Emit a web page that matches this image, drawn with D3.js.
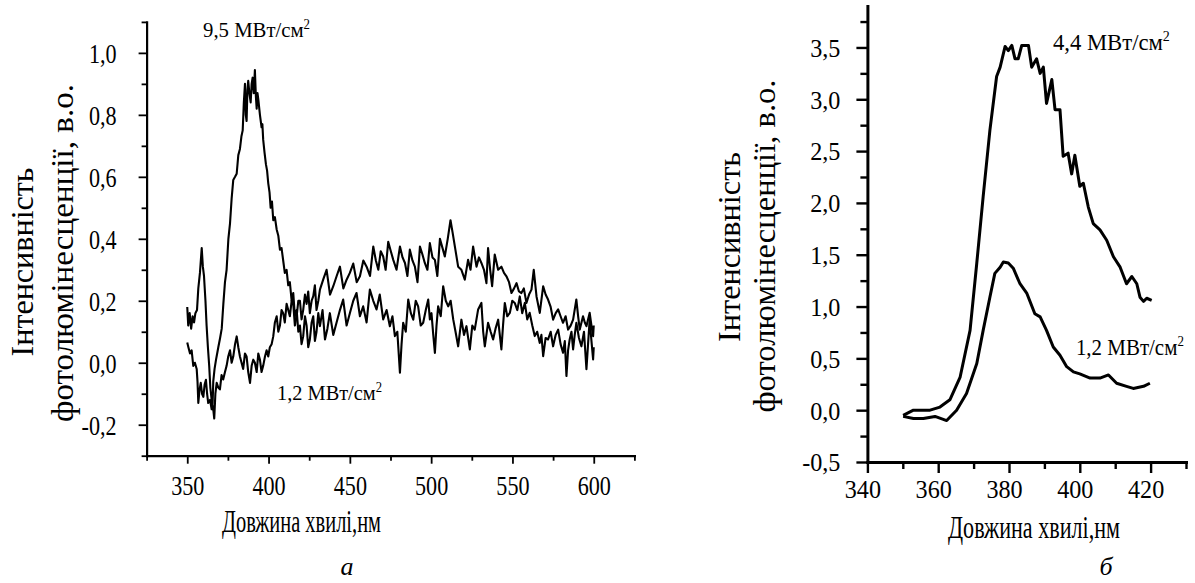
<!DOCTYPE html>
<html lang="uk">
<head>
<meta charset="UTF-8">
<title>Photoluminescence spectra</title>
<script src="https://d3js.org/d3.v7.min.js"></script>
<style>
  body { margin: 0; background: #fff; }
  svg { display: block; }
  svg text { font-family: "Liberation Serif", "DejaVu Serif", "Noto Serif", "Times New Roman", serif !important; fill: #000; }
</style>
</head>
<body>
<script>
// ---- panel (a): 9,5 MW/cm2 and 1,2 MW/cm2, 350-600 nm ----
var lambda95 = [350, 350.6, 351.5, 352.4, 353.3, 354.2, 355, 356, 356.8, 357.8, 358.9, 359.6, 360.3, 361.2, 361.9, 362.7, 363.5, 364.2, 365, 365.5, 366, 366.8, 367.7, 368.4, 369.1, 370.2, 371.2, 372.2, 373.2, 374.2, 375.3, 376.3, 377.3, 378.3, 379.4, 380.4, 381.4, 382.4, 383.3, 384.1, 384.8, 385.5, 386, 386.5, 387, 387.5, 388.2, 389, 389.6, 390.2, 390.9, 391.6, 392.2, 392.7, 393.2, 393.7, 394.7, 395.7, 396.2, 396.7, 397.5, 398.4, 399.1, 399.8, 400.6, 401.3, 402.1, 402.9, 403.9, 405, 406, 407, 408, 409, 410, 411.1, 412.1, 413.1, 414.2, 415.2, 416.2, 417.3, 418.3, 419.3, 420.3, 421.3, 422.4, 423.4, 424.4, 425.4, 426.5, 427.5, 428.5, 429.5, 430.6,
  431.6, 433.2, 434.7, 436.2, 437.7, 439.8, 441.8, 443.9, 445.9, 448, 450, 452.1, 454.1, 456.2, 458.2, 460.3, 462.3, 464.4, 466.4, 468.4, 470.5, 472.6, 474.6, 476.2, 477.7, 479.2, 480.8, 481.8, 482.8, 484.4, 485.9, 487.5, 489, 490.5, 492, 493.6, 495.1, 496.7, 498.2, 499.2, 500.2, 501.3, 502.3, 503.3, 504.3, 505.9, 507.4, 509, 510.5, 512, 513.6, 515, 516.6,
  518.6, 520.2, 521.7, 523.8, 525.3, 526.8, 528.9, 530.9, 532, 533, 535, 536.6, 538.1, 539.6, 541.2, 543.2, 544.2, 545.3, 546.8, 548.4, 549.9, 551.4, 553, 554.5, 556, 557.6, 559.1, 560.6, 562.2, 563.7, 565.2, 566.8, 567.8, 568.9, 570.4, 571.9, 573.5, 575, 576.6, 578.1, 579.6, 581.1, 582.2, 583.2, 584.2, 585.2, 586.3, 587.3, 588.3, 589.3, 590.9, 592.4, 594, 595.5, 596.5, 597.5, 598.6, 599.6, 600];
var int95 = [0.18, 0.12, 0.16, 0.11, 0.15, 0.13, 0.16, 0.17, 0.24, 0.29, 0.37, 0.31, 0.28, 0.2, 0.12, 0.05, -0.01, -0.08, -0.12, -0.15, -0.06, -0.02, 0.01, 0.03, 0.05, 0.08, 0.11, 0.19, 0.26, 0.3, 0.4, 0.45, 0.53, 0.59, 0.6, 0.61, 0.67, 0.69, 0.73, 0.75, 0.84, 0.9, 0.8, 0.78, 0.88, 0.91, 0.87, 0.84, 0.9, 0.92, 0.87, 0.945, 0.86, 0.82, 0.87, 0.85, 0.8, 0.76, 0.77, 0.72, 0.68, 0.64, 0.62, 0.58, 0.55, 0.5, 0.52, 0.46, 0.47, 0.43, 0.41, 0.365, 0.37, 0.33, 0.29, 0.3, 0.25, 0.26, 0.2, 0.225, 0.15, 0.17, 0.1, 0.12, 0.06, 0.085, 0.15, 0.12, 0.05, 0.075, 0.13, 0.15, 0.07, 0.1, 0.16,
  0.118, 0.17, 0.075, 0.11, 0.16, 0.09, 0.129, 0.17, 0.204, 0.12, 0.16, 0.2, 0.225, 0.15, 0.182, 0.13, 0.236, 0.2, 0.172, 0.22, 0.14, 0.17, 0.118, 0.15, 0.086, 0.1, -0.032, 0.06, 0.129, 0.1, 0.204, 0.16, 0.139, 0.2, 0.182, 0.12, 0.129, 0.17, 0.204, 0.14, 0.16, 0.09, 0.032, 0.12, 0.182, 0.15, 0.247, 0.2, 0.182, 0.2, 0.139, 0.1, 0.053,
  0.139, 0.09, 0.118, 0.043, 0.12, 0.107, 0.172, 0.193, 0.1, 0.053, 0.129, 0.1, 0.075, 0.11, 0.139, 0.043, 0.12, 0.193, 0.15, 0.161, 0.2, 0.193, 0.17, 0.214, 0.16, 0.193, 0.14, 0.161, 0.12, 0.086, 0.1, 0.064, 0.09, 0.021, 0.08, 0.075, 0.1, 0.053, 0.09, 0.107, 0.06, 0.032, 0.07, -0.043, 0.04, 0.075, 0.1, 0.043, 0.09, 0.129, 0.08, 0.053, 0.1, -0.021, 0.06, 0.139, 0.07, 0.011, 0.05];

var lambda12a = [350, 350.7, 351.7, 352.7, 353.7, 354.7, 355.8, 356.3, 356.8, 357.5, 358.3, 359.1, 359.9, 360.7, 361.5, 362.2, 362.9, 364, 365, 365.8, 366.6, 367.3, 368.1, 369.1, 370.1, 371.1, 372.1, 373.2, 374.2, 375.2, 376.3, 377.3, 378.3, 379.4, 380.4, 381.4, 382.4, 383.4, 384.4, 385.5, 386.5, 387.5, 388.6, 389.6, 390.6, 391.6, 392.7, 393.7, 394.7, 395.7, 396.7, 397.8, 398.8, 399.8, 400.8, 401.9, 402.9, 403.9, 405, 406, 407, 408, 409, 410, 411.1, 412.1, 413.1, 414.2, 415.2, 416.2, 417.3, 418.3, 419.3, 420.3, 421.3, 422.4, 423.4, 424.4, 425.4, 426.5, 427.5, 428.5, 429.5, 430.6,
  431.6, 433.7, 435.7, 437.8, 439.8, 441.9, 443.9, 446, 448, 450, 452.1, 454.2, 456.2, 458.3, 460.3, 462.4, 464.4, 466, 467.5, 469, 470.5, 472, 473.6, 475.2, 476.7, 478.7, 480.8, 482.4, 483.9, 485.4, 486.9, 488.5, 490, 491.6, 493.1, 494.6, 496.1, 497.7, 499.2, 500.8, 502.3, 503.8, 505.4, 507, 508.4, 510.2, 511.9, 513.2, 514.6, 516.6, 518.6,
  520.7, 522.7, 524.2, 525.8, 527.9, 529.4, 530.9, 532.5, 534, 535, 536.3, 537.5, 539.1, 541.2, 543.2, 544.8, 546.3, 547.9, 549.4, 551, 552.5, 554, 555.5, 557, 558.6, 560.2, 561.7, 563.1, 564.8, 566.8, 568.9, 570.4, 571.9, 573.5, 575, 576.6, 578.1, 579.6, 581.1, 582.7, 584.2, 585.8, 587.3, 589.3, 590.4, 591.4, 593.4, 594.5, 595.5, 597.5, 598.6, 599.6, 600];
var int12a = [0.065, 0.05, 0.03, 0.04, -0.01, 0.0, -0.02, -0.06, -0.13, -0.09, -0.065, -0.1, -0.11, -0.07, -0.055, -0.1, -0.13, -0.12, -0.15, -0.14, -0.18, -0.1, -0.065, -0.08, -0.086, -0.04, -0.054, -0.03, -0.01, 0.02, 0.04, 0.0, 0.02, 0.06, 0.085, 0.05, 0.02, 0.0, -0.02, 0.03, 0.02, -0.03, -0.065, -0.01, 0.01, 0.0, -0.03, 0.03, 0.01, -0.03, -0.01, 0.02, 0.04, 0.02, 0.05, 0.06, 0.085, 0.13, 0.15, 0.1, 0.12, 0.17, 0.16, 0.13, 0.19, 0.17, 0.15, 0.2, 0.19, 0.12, 0.15, 0.2, 0.2, 0.14, 0.17, 0.22, 0.19, 0.23, 0.16, 0.2, 0.215, 0.25, 0.17, 0.2,
  0.236, 0.27, 0.3, 0.22, 0.247, 0.28, 0.31, 0.24, 0.268, 0.29, 0.32, 0.26, 0.279, 0.33, 0.31, 0.28, 0.375, 0.33, 0.3, 0.36, 0.343, 0.3, 0.39, 0.36, 0.332, 0.3, 0.375, 0.34, 0.322, 0.28, 0.365, 0.33, 0.31, 0.26, 0.375, 0.35, 0.322, 0.3, 0.386, 0.34, 0.332, 0.28, 0.4, 0.37, 0.343, 0.4, 0.46, 0.42, 0.375, 0.31, 0.3,
  0.268, 0.332, 0.3, 0.375, 0.31, 0.34, 0.322, 0.3, 0.257, 0.37, 0.3, 0.247, 0.349, 0.3, 0.31, 0.29, 0.279, 0.26, 0.225, 0.24, 0.257, 0.23, 0.225, 0.24, 0.193, 0.22, 0.236, 0.3, 0.214, 0.161, 0.247, 0.22, 0.204, 0.18, 0.139, 0.16, 0.172, 0.15, 0.129, 0.15, 0.107, 0.12, 0.139, 0.204, 0.15, 0.107, 0.15, 0.13, 0.118, 0.161, 0.12, 0.086, 0.12];

// ---- panel (б): 4,4 MW/cm2 and 1,2 MW/cm2, 350-420 nm ----
var lambda44 = [350.1, 353, 357.7, 360.5, 363.3, 366.2, 369, 370.9, 372.7, 374.6, 376.5, 377.5, 378.9, 379.8, 380.8, 381.7, 382.6, 383.6, 385.5, 386.4, 387.8, 388.8, 389.7, 390.6, 392.1, 393, 394.4, 395.3, 396.7, 397.7, 398.6, 400, 401, 402.4, 403.8, 405.7, 407.6, 409.5, 411.4, 413.2, 414.7, 416.1, 417, 418, 418.9, 420.3];
var int44 = [-0.05, 0.0, 0.0, 0.03, 0.1, 0.32, 0.77, 1.42, 2.06, 2.7, 3.22, 3.31, 3.51, 3.47, 3.52, 3.39, 3.39, 3.52, 3.52, 3.31, 3.39, 3.25, 3.31, 2.96, 3.19, 2.9, 2.9, 2.45, 2.48, 2.28, 2.46, 2.16, 2.19, 1.96, 1.8, 1.74, 1.64, 1.48, 1.38, 1.22, 1.29, 1.22, 1.09, 1.05, 1.08, 1.06];
var lambda12b = [350.1, 353, 355.8, 359.1, 362.4, 365.2, 368, 370.9, 372.7, 374.6, 376, 377.5, 378.4, 379.8, 381.2, 383.1, 385, 387.3, 388.8, 390.6, 392.5, 394.4, 396.3, 398.2, 400, 402.9, 405.7, 408.1, 410.4, 413.2, 415.1, 418, 419.8];
var int12b = [-0.06, -0.08, -0.08, -0.06, -0.1, 0.0, 0.16, 0.45, 0.77, 1.09, 1.32, 1.38, 1.43, 1.42, 1.37, 1.22, 1.13, 0.93, 0.9, 0.77, 0.61, 0.53, 0.42, 0.37, 0.35, 0.31, 0.31, 0.34, 0.26, 0.23, 0.21, 0.23, 0.26];

// ticks
var leftYMajor = [-0.2, 0, 0.2, 0.4, 0.6, 0.8, 1.0];
var leftYMinor = [-0.3, -0.1, 0.1, 0.3, 0.5, 0.7, 0.9, 1.1];
var leftXMajor = [350, 400, 450, 500, 550, 600];
var leftXMinor = [325, 375, 425, 475, 525, 575, 625];
var rightYMajor = [-0.5, 0, 0.5, 1.0, 1.5, 2.0, 2.5, 3.0, 3.5];
var rightYMinor = [-0.25, 0.25, 0.75, 1.25, 1.75, 2.25, 2.75, 3.25, 3.75];
var rightXMajor = [340, 360, 380, 400, 420];
var rightXMinor = [350, 370, 390, 410, 430];

var yTitle1 = "Інтенсивність";
var yTitle2 = "фотолюмінесценції, в.о.";
var xTitle = "Довжина хвилі,нм";

var svg = d3.select("body").append("svg")
  .attr("width", 1195).attr("height", 583);

var fmt = function (d) { return d.toFixed(1).replace(".", ","); };

function drawPanel(p) {
  var g = svg.append("g");
  var x = p.x, y = p.y;
  var x0 = x.range()[0], yb = y.range()[0];

  // y axis, major + minor
  var ya = g.append("g").attr("transform", "translate(" + x0 + ",0)")
    .call(d3.axisLeft(y).tickValues(p.yMajor).tickSize(p.major).tickSizeOuter(0).tickFormat(fmt));
  ya.select(".domain").attr("stroke-width", p.axisW);
  ya.selectAll(".tick line").attr("stroke-width", p.tickW);
  ya.selectAll(".tick text")
    .attr("font-size", p.tickFont)
    .attr("x", -p.yLabOff / p.sx)
    .attr("dy", p.yLabDy)
    .attr("transform", "scale(" + p.sx + ",1)");
  var ym = g.append("g").attr("transform", "translate(" + x0 + ",0)")
    .call(d3.axisLeft(y).tickValues(p.yMinor).tickSize(p.minor).tickFormat(""));
  ym.select(".domain").remove();
  ym.selectAll(".tick line").attr("stroke-width", p.tickW);

  // x axis, major + minor
  var xa = g.append("g").attr("transform", "translate(0," + yb + ")")
    .call(d3.axisBottom(x).tickValues(p.xMajor).tickSize(p.major).tickSizeOuter(0).tickFormat(d3.format("d")));
  xa.select(".domain").attr("stroke-width", p.axisW);
  xa.selectAll(".tick line").attr("stroke-width", p.tickW);
  xa.selectAll(".tick text")
    .attr("font-size", p.tickFont)
    .attr("y", p.xLabOff)
    .attr("dy", 0)
    .attr("x", p.xLabShift / p.sx)
    .attr("transform", "scale(" + p.sx + ",1)");
  var xm = g.append("g").attr("transform", "translate(0," + yb + ")")
    .call(d3.axisBottom(x).tickValues(p.xMinor).tickSize(p.minor).tickFormat(""));
  xm.select(".domain").remove();
  xm.selectAll(".tick line").attr("stroke-width", p.tickW);
  g.selectAll(".domain").attr("stroke-linecap", "square");

  // curves
  var line = d3.line().x(function (d) { return x(d[0]); }).y(function (d) { return y(d[1]); });
  p.series.forEach(function (s) {
    g.append("path")
      .datum(d3.zip(s[0], s[1]))
      .attr("d", line)
      .attr("fill", "none")
      .attr("stroke", "#000")
      .attr("stroke-width", p.lineW)
      .attr("stroke-linejoin", "round");
  });

  // y title (two lines)
  [[yTitle1, p.yt1], [yTitle2, p.yt2]].forEach(function (t) {
    g.append("text")
      .attr("transform", "translate(" + t[1][0] + "," + t[1][1] + ") rotate(-90)")
      .attr("text-anchor", "middle")
      .attr("font-size", 31)
      .attr("textLength", t[1][2])
      .attr("lengthAdjust", "spacingAndGlyphs")
      .text(t[0]);
  });

  // x title
  g.append("text")
    .attr("x", p.xt[0]).attr("y", p.xt[1])
    .attr("font-size", p.xt[3])
    .attr("textLength", p.xt[2])
    .attr("lengthAdjust", "spacingAndGlyphs")
    .text(xTitle);

  // sub caption
  g.append("text")
    .attr("x", p.cap[0]).attr("y", p.cap[1])
    .attr("text-anchor", "middle")
    .attr("font-size", 26)
    .attr("font-style", "italic")
    .text(p.cap[2]);

  // power labels (placed in data coordinates)
  p.labels.forEach(function (l) {
    var t = g.append("text")
      .attr("x", x(l.at[0])).attr("y", y(l.at[1]))
      .attr("font-size", l.fs)
      .attr("textLength", l.w)
      .attr("lengthAdjust", "spacingAndGlyphs");
    t.append("tspan").text(l.text);
    t.append("tspan").attr("font-size", l.fs * 0.62).attr("dy", -l.fs * 0.38).text("2");
  });
}

drawPanel({
  x: d3.scaleLinear().domain([325, 625]).range([146.6, 634.4]),
  y: d3.scaleLinear().domain([-0.3, 1.1]).range([455.7, 21.9]),
  yMajor: leftYMajor, yMinor: leftYMinor, xMajor: leftXMajor, xMinor: leftXMinor,
  major: 8, minor: 5, axisW: 2.2, tickW: 1.8, lineW: 2.1,
  tickFont: 27, sx: 0.82, yLabOff: 30, yLabDy: "0.36em", xLabOff: 39, xLabShift: 0,
  series: [[lambda95, int95], [lambda12a, int12a]],
  yt1: [33, 262, 189], yt2: [73, 253, 338],
  xt: [222, 532, 159, 31],
  cap: [347, 575, "а"],
  labels: [
    { text: "9,5 МВт/см", at: [359.7, 1.051], fs: 22, w: 107 },
    { text: "1,2 МВт/см", at: [405.2, -0.12], fs: 22, w: 105 }
  ]
});

drawPanel({
  x: d3.scaleLinear().domain([340, 430]).range([867.4, 1186]),
  y: d3.scaleLinear().domain([-0.5, 3.9]).range([462, 6]),
  yMajor: rightYMajor, yMinor: rightYMinor, xMajor: rightXMajor, xMinor: rightXMinor,
  major: 11, minor: 7, axisW: 3, tickW: 2.4, lineW: 3,
  tickFont: 26, sx: 0.93, yLabOff: 27, yLabDy: "0.34em", xLabOff: 36, xLabShift: -5,
  series: [[lambda44, int44], [lambda12b, int12b]],
  yt1: [740, 247, 190], yt2: [775, 246, 333],
  xt: [948, 538, 172, 32],
  cap: [1106, 575, "б"],
  labels: [
    { text: "4,4 МВт/см", at: [392.4, 3.475], fs: 24, w: 117 },
    { text: "1,2 МВт/см", at: [398.9, 0.533], fs: 24, w: 108 }
  ]
});
</script>
</body>
</html>
